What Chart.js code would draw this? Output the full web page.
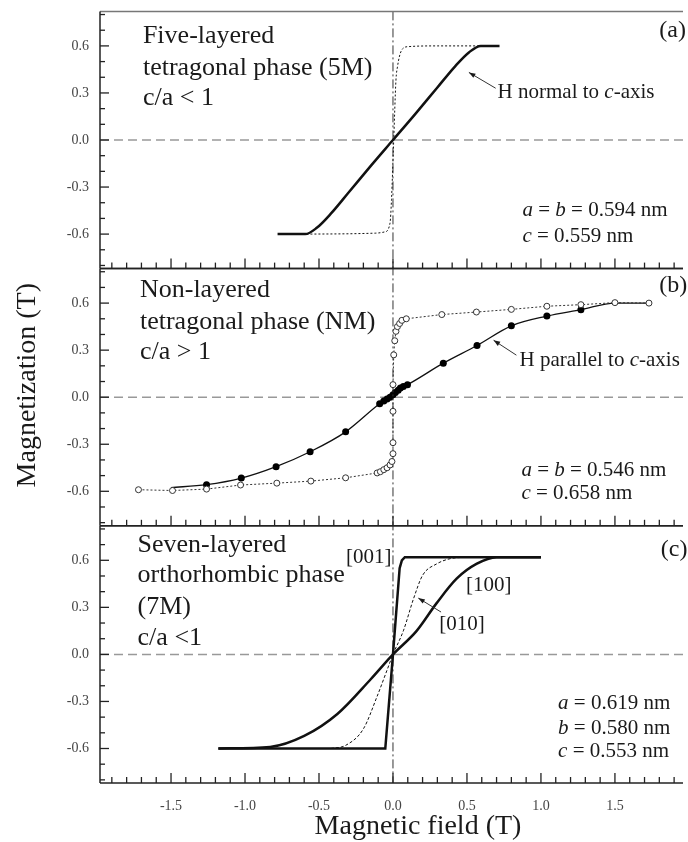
<!DOCTYPE html>
<html>
<head>
<meta charset="utf-8">
<script src="https://cdn.jsdelivr.net/npm/chart.js@4.4.0/dist/chart.umd.min.js"></script>
<style>
  html, body { margin: 0; padding: 0; background: #fff; overflow: hidden; }
  #wrap { width: 688px; height: 842px; }
</style>
</head>
<body>
<div id="wrap"><canvas id="chartMag" width="688" height="842"></canvas></div>
<script>
// (a) five-layered tetragonal 5M
const fieldA_normal = [-0.78, -0.593, -0.515, -0.42, -0.3, -0.15, 0, 0.15, 0.3, 0.42, 0.515, 0.593, 0.72];
const magA_normal = [-0.60, -0.60, -0.56, -0.47, -0.335, -0.165, 0, 0.165, 0.335, 0.47, 0.56, 0.60, 0.60];
const fieldA_easy = [-0.585, -0.3, -0.12, -0.055, -0.02, -0.01, 0.005, 0.02, 0.03, 0.057, 0.1, 0.3, 0.6];
const magA_easy = [-0.60, -0.598, -0.594, -0.586, -0.53, -0.38, 0, 0.38, 0.465, 0.57, 0.595, 0.60, 0.60];

// (b) non-layered tetragonal NM
const fieldB_open = [-1.72, -1.49, -1.26, -1.03, -0.785, -0.555, -0.32, -0.107, -0.085, -0.062, -0.04, -0.02, -0.007, 0, 0, 0, 0, 0.005, 0.012, 0.02, 0.03, 0.045, 0.06, 0.09, 0.33, 0.564, 0.80, 1.04, 1.27, 1.50, 1.73];
const magB_open = [-0.59, -0.595, -0.586, -0.56, -0.548, -0.535, -0.514, -0.483, -0.475, -0.462, -0.45, -0.432, -0.41, -0.36, -0.29, -0.09, 0.08, 0.27, 0.36, 0.42, 0.45, 0.47, 0.49, 0.50, 0.527, 0.543, 0.56, 0.58, 0.59, 0.603, 0.60];
const fieldB_filled = [-1.50, -1.26, -1.025, -0.79, -0.56, -0.32, -0.09, -0.062, -0.04, -0.02, 0.0, 0.016, 0.035, 0.05, 0.07, 0.098, 0.34, 0.568, 0.80, 1.04, 1.27, 1.50, 1.73];
const magB_filled = [-0.576, -0.558, -0.516, -0.443, -0.348, -0.221, -0.042, -0.025, -0.012, 0.0, 0.015, 0.03, 0.045, 0.059, 0.068, 0.08, 0.217, 0.33, 0.455, 0.517, 0.558, 0.60, 0.60];

// (c) seven-layered orthorhombic 7M
const fieldC_001 = [-1.18, -0.052, 0, 0.045, 0.06, 0.08, 1.0];
const magC_001 = [-0.60, -0.60, 0, 0.55, 0.60, 0.62, 0.62];
const fieldC_100 = [-1.18, -0.83, -0.6, -0.376, -0.152, 0, 0.16, 0.295, 0.43, 0.564, 0.70, 1.0];
const magC_100 = [-0.60, -0.59, -0.52, -0.38, -0.16, 0, 0.15, 0.327, 0.483, 0.577, 0.62, 0.62];
const fieldC_010 = [-0.42, -0.32, -0.2, -0.107, -0.04, 0, 0.07, 0.14, 0.2, 0.295, 0.385, 0.5];
const magC_010 = [-0.60, -0.58, -0.475, -0.267, -0.1, 0, 0.15, 0.358, 0.504, 0.577, 0.61, 0.62];

// tick labels
const xTicks = [-1.5, -1.0, -0.5, 0.0, 0.5, 1.0, 1.5];
const yTicks = [-0.6, -0.3, 0.0, 0.3, 0.6];

const SERIF = '"Liberation Serif", "Times New Roman", serif';
const panelIds = ['yA', 'yB', 'yC'];

const zip = (xs, ys) => xs.map((x, i) => ({ x: x, y: ys[i] }));

// text notes, placed in data coordinates of each panel
const notes = [
  { axis: 'yA', x: -1.69, y: 0.66, text: 'Five-layered', size: 26 },
  { axis: 'yA', x: -1.69, y: 0.46, text: 'tetragonal phase (5M)', size: 26 },
  { axis: 'yA', x: -1.69, y: 0.266, text: 'c/a < 1', size: 26 },
  { axis: 'yA', x: 1.80, y: 0.70, text: '(a)', size: 24 },
  { axis: 'yA', x: 0.707, y: 0.30, text: 'H normal to *c*-axis', size: 21 },
  { axis: 'yA', x: 0.875, y: -0.448, text: '*a* = *b* = 0.594 nm', size: 21 },
  { axis: 'yA', x: 0.875, y: -0.614, text: '*c* = 0.559 nm', size: 21 },

  { axis: 'yB', x: -1.71, y: 0.682, text: 'Non-layered', size: 26 },
  { axis: 'yB', x: -1.71, y: 0.478, text: 'tetragonal phase (NM)', size: 26 },
  { axis: 'yB', x: -1.71, y: 0.287, text: 'c/a > 1', size: 26 },
  { axis: 'yB', x: 1.80, y: 0.714, text: '(b)', size: 24 },
  { axis: 'yB', x: 0.855, y: 0.236, text: 'H parallel to *c*-axis', size: 21 },
  { axis: 'yB', x: 0.868, y: -0.465, text: '*a* = *b* = 0.546 nm', size: 21 },
  { axis: 'yB', x: 0.868, y: -0.612, text: '*c* = 0.658 nm', size: 21 },

  { axis: 'yC', x: -1.726, y: 0.697, text: 'Seven-layered', size: 26 },
  { axis: 'yC', x: -1.726, y: 0.505, text: 'orthorhombic phase', size: 26 },
  { axis: 'yC', x: -1.726, y: 0.30, text: '(7M)', size: 26 },
  { axis: 'yC', x: -1.726, y: 0.104, text: 'c/a <1', size: 26 },
  { axis: 'yC', x: 1.81, y: 0.67, text: '(c)', size: 24 },
  { axis: 'yC', x: -0.318, y: 0.62, text: '[001]', size: 21 },
  { axis: 'yC', x: 0.493, y: 0.44, text: '[100]', size: 21 },
  { axis: 'yC', x: 0.312, y: 0.188, text: '[010]', size: 21 },
  { axis: 'yC', x: 1.116, y: -0.31, text: '*a* = 0.619 nm', size: 21 },
  { axis: 'yC', x: 1.116, y: -0.47, text: '*b* = 0.580 nm', size: 21 },
  { axis: 'yC', x: 1.116, y: -0.62, text: '*c* = 0.553 nm', size: 21 }
];

const arrows = [
  { axis: 'yA', from: [0.694, 0.33], to: [0.513, 0.431] },
  { axis: 'yB', from: [0.834, 0.268], to: [0.68, 0.363] },
  { axis: 'yC', from: [0.325, 0.27], to: [0.171, 0.359] }
];

function drawRich(ctx, text, x, y, size) {
  let cx = x;
  text.split('*').forEach((part, i) => {
    if (!part) return;
    ctx.font = (i % 2 ? 'italic ' : '') + size + 'px ' + SERIF;
    ctx.fillText(part, cx, y);
    cx += ctx.measureText(part).width;
  });
}

function seg(ctx, x1, y1, x2, y2) {
  ctx.beginPath();
  ctx.moveTo(x1, y1);
  ctx.lineTo(x2, y2);
  ctx.stroke();
}

const figurePlugin = {
  id: 'figure',
  beforeDatasetsDraw(chart) {
    const { ctx, chartArea, scales } = chart;
    const xs = scales.x;
    ctx.save();
    ctx.strokeStyle = '#999';
    ctx.lineWidth = 1.5;
    ctx.setLineDash([9, 5]);
    panelIds.forEach((id) => {
      const y = scales[id].getPixelForValue(0);
      seg(ctx, xs.left, y, xs.right, y);
    });
    ctx.strokeStyle = '#333';
    ctx.lineWidth = 1;
    ctx.setLineDash([9, 3, 2, 3]);
    const x0 = xs.getPixelForValue(0);
    seg(ctx, x0, chartArea.top, x0, chartArea.bottom);
    ctx.restore();
  },
  afterDatasetsDraw(chart) {
    const { ctx, scales } = chart;
    const xs = scales.x;
    ctx.save();
    ctx.lineWidth = 1.3;
    panelIds.forEach((id, k) => {
      const ys = scales[id];
      // minor and major ticks, pointing inward
      ctx.strokeStyle = '#222';
      for (let i = -8; i <= 8; i++) {
        const y = ys.getPixelForValue(i / 10);
        seg(ctx, ys.right, y, ys.right + (i % 3 === 0 ? 9 : 5), y);
      }
      for (let i = -19; i <= 19; i++) {
        const x = xs.getPixelForValue(i / 10);
        seg(ctx, x, ys.bottom, x, ys.bottom - (i % 5 === 0 ? 10 : 6));
      }
      // frame
      ctx.lineWidth = 1.5;
      ctx.strokeStyle = k === 0 ? '#777' : '#222';
      seg(ctx, xs.left, ys.top, xs.right, ys.top);
      ctx.strokeStyle = '#222';
      seg(ctx, xs.left, ys.bottom, xs.right, ys.bottom);
      seg(ctx, ys.right, ys.top, ys.right, ys.bottom);
      ctx.lineWidth = 1.3;
    });
    ctx.restore();
  },
  afterDraw(chart) {
    const { ctx, scales, chartArea } = chart;
    const xs = scales.x;
    ctx.save();
    ctx.fillStyle = '#1a1a1a';
    ctx.textBaseline = 'middle';
    ctx.textAlign = 'left';
    notes.forEach((n) => {
      drawRich(ctx, n.text, xs.getPixelForValue(n.x), scales[n.axis].getPixelForValue(n.y), n.size);
    });

    ctx.strokeStyle = '#333';
    ctx.lineWidth = 1;
    arrows.forEach((a) => {
      const ys = scales[a.axis];
      const x1 = xs.getPixelForValue(a.from[0]), y1 = ys.getPixelForValue(a.from[1]);
      const x2 = xs.getPixelForValue(a.to[0]), y2 = ys.getPixelForValue(a.to[1]);
      seg(ctx, x1, y1, x2, y2);
      const ang = Math.atan2(y2 - y1, x2 - x1);
      ctx.beginPath();
      ctx.moveTo(x2, y2);
      ctx.lineTo(x2 - 7 * Math.cos(ang - 0.35), y2 - 7 * Math.sin(ang - 0.35));
      ctx.lineTo(x2 - 7 * Math.cos(ang + 0.35), y2 - 7 * Math.sin(ang + 0.35));
      ctx.closePath();
      ctx.fill();
    });

    // axis titles
    ctx.font = '28px ' + SERIF;
    ctx.textAlign = 'center';
    ctx.fillText('Magnetic field (T)', (chartArea.left + 736) / 2, 827);
    ctx.translate(28, (chartArea.top + chartArea.bottom) / 2 - 12);
    ctx.rotate(-Math.PI / 2);
    ctx.fillText('Magnetization (T)', 0, 0);
    ctx.restore();
  }
};

const yScale = (weight) => ({
  type: 'linear',
  position: 'left',
  stack: 'mag',
  stackWeight: 1,
  weight: weight,
  min: -0.82,
  max: 0.82,
  offset: false,
  grid: { display: false },
  border: { display: false },
  afterBuildTicks: (s) => { s.ticks = yTicks.map((v) => ({ value: v })); },
  afterFit: (s) => { s.width = 100; },
  ticks: {
    padding: 3,
    color: '#444',
    font: { family: SERIF, size: 14 },
    callback: (v) => v.toFixed(1)
  }
});

const curve = { pointRadius: 0, fill: false, borderColor: '#111', cubicInterpolationMode: 'monotone' };

new Chart(document.querySelector('#chartMag'), {
  type: 'line',
  data: {
    datasets: [
      { ...curve, yAxisID: 'yA', data: zip(fieldA_normal, magA_normal), borderWidth: 2.5 },
      { ...curve, yAxisID: 'yA', data: zip(fieldA_easy, magA_easy), borderWidth: 1, borderDash: [2, 2] },
      {
        yAxisID: 'yB', data: zip(fieldB_open, magB_open), tension: 0, fill: false,
        borderColor: '#333', borderWidth: 1, borderDash: [2, 2],
        pointRadius: 3, pointBorderWidth: 1, pointBorderColor: '#333', pointBackgroundColor: '#fff'
      },
      {
        ...curve, yAxisID: 'yB', data: zip(fieldB_filled, magB_filled), borderWidth: 1.3,
        pointRadius: (c) => (c.raw && Math.abs(c.raw.x) >= 1.45 ? 0 : 3.5),
        pointBackgroundColor: '#000', pointBorderColor: '#000', pointBorderWidth: 0
      },
      { ...curve, yAxisID: 'yC', data: zip(fieldC_001, magC_001), borderWidth: 2.5, cubicInterpolationMode: 'default', tension: 0 },
      { ...curve, yAxisID: 'yC', data: zip(fieldC_100, magC_100), borderWidth: 2.5 },
      { ...curve, yAxisID: 'yC', data: zip(fieldC_010, magC_010), borderWidth: 1, borderDash: [3, 2] }
    ]
  },
  options: {
    responsive: false,
    animation: false,
    layout: { padding: { top: 11, right: 0, bottom: 0, left: 0 } },
    plugins: { legend: { display: false }, tooltip: { enabled: false } },
    scales: {
      x: {
        type: 'linear',
        min: -1.98,
        max: 1.96,
        grid: { display: false },
        border: { display: false },
        afterBuildTicks: (s) => { s.ticks = xTicks.map((v) => ({ value: v })); },
        afterFit: (s) => { s.height = 59; },
        ticks: {
          padding: 7,
          color: '#444',
          autoSkip: false,
          maxRotation: 0,
          font: { family: SERIF, size: 14 },
          callback: (v) => v.toFixed(1)
        }
      },
      yA: yScale(3),
      yB: yScale(2),
      yC: yScale(1)
    }
  },
  plugins: [figurePlugin]
});
</script>
</body>
</html>
